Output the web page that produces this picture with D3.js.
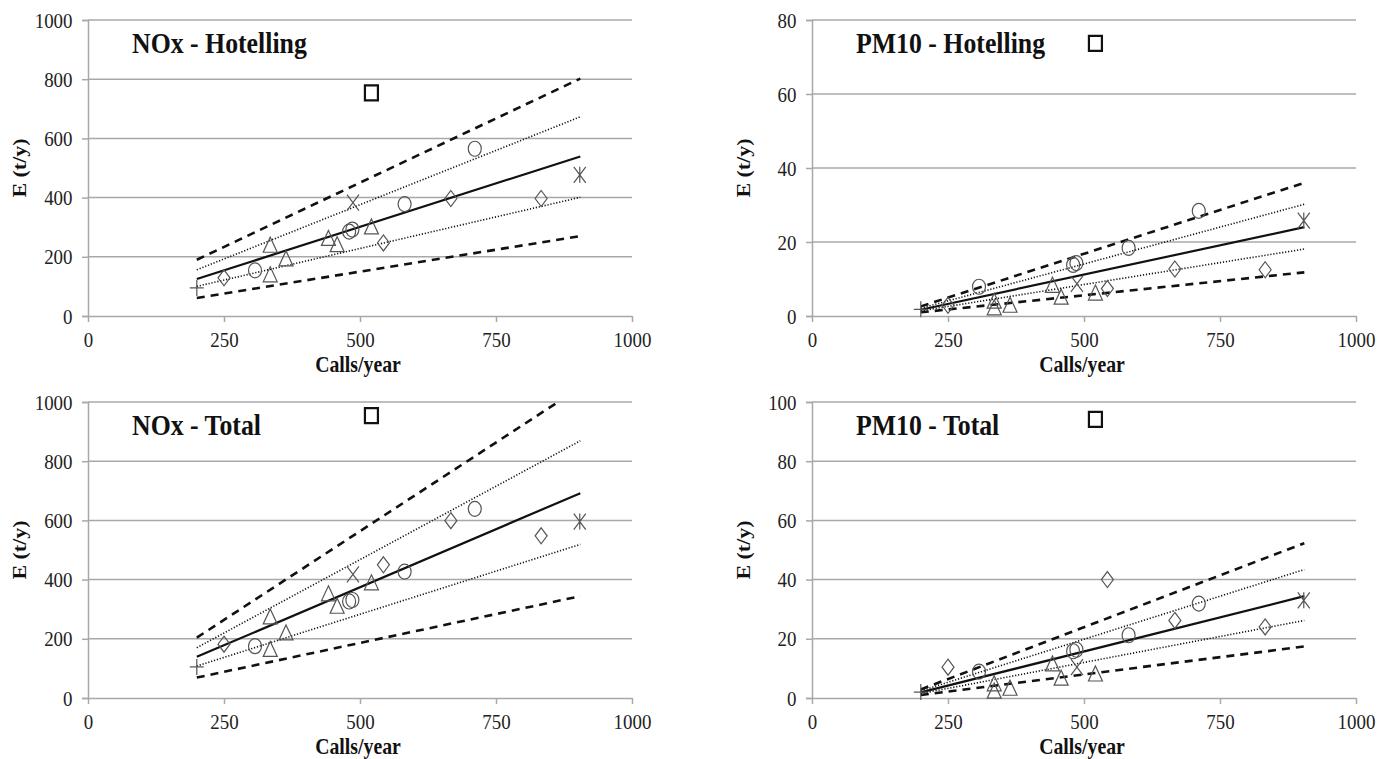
<!DOCTYPE html>
<html>
<head>
<meta charset="utf-8">
<script src="https://cdn.jsdelivr.net/npm/d3@7"></script>
<style>
  body { margin: 0; background: #fff; }
  svg { display: block; }
  svg text { font-family: "Liberation Serif", "DejaVu Serif", serif; }
</style>
</head>
<body>
<div id="chart"></div>
<script>
// ports: calls per year and marker shape (same in all four panels)
var calls  = [200, 250, 307, 335, 335, 364, 442, 458, 480, 486, 487, 521, 521, 543, 582, 667, 711, 833, 904];
var shapes = ["plus", "diamond", "circle", "triangle", "triangle", "triangle", "triangle", "triangle", "circle", "circle",
              "cross", "triangle", "square", "diamond", "circle", "diamond", "circle", "diamond", "asterisk"];

// emissions (t/y), same order as calls
var noxHotelling  = [95, 129, 154, 239, 139, 193, 262, 241, 285, 292, 383, 301, 754, 247, 378, 397, 565, 397, 477];
var noxTotal      = [105, 182, 175, 274, 164, 220, 352, 310, 326, 331, 418, 389, 954, 450, 427, 599, 639, 548, 596];
var pm10Hotelling = [1.8, 2.9, 7.9, 4.0, 2.2, 2.9, 8.3, 5.1, 13.8, 14.3, 8.7, 6.2, 73.7, 7.4, 18.4, 12.7, 28.4, 12.5, 25.8];
var pm10Total     = [2.0, 10.4, 8.9, 4.8, 2.3, 3.3, 11.5, 6.7, 15.8, 16.3, 10.4, 8.1, 94.1, 40.0, 21.2, 26.2, 31.9, 24.0, 33.0];

// regression line and bands, value at x = 200 and x = 905
var lineX = [200, 905];
var noxHotLines  = {fit: [125, 539], dotHi: [156, 673], dotLo: [100, 401], dashHi: [190, 802], dashLo: [61, 270]};
var noxTotLines  = {fit: [139, 692], dotHi: [170, 869], dotLo: [108, 519], dashHi: [204, 1049], dashLo: [69, 344]};
var pmHotLines   = {fit: [1.7, 24.0], dotHi: [2.1, 30.2], dotLo: [1.4, 18.1], dashHi: [2.6, 36.0], dashLo: [1.0, 11.8]};
var pmTotLines   = {fit: [1.9, 34.4], dotHi: [2.4, 43.4], dotLo: [1.5, 26.2], dashHi: [2.9, 52.3], dashLo: [1.0, 17.4]};

var xTicks = [0, 250, 500, 750, 1000];
var noxTicks = [0, 200, 400, 600, 800, 1000];
var pmHotTicks = [0, 20, 40, 60, 80];
var pmTotTicks = [0, 20, 40, 60, 80, 100];

var panels = [
  {title: "NOx - Hotelling", values: noxHotelling, lines: noxHotLines, ymax: 1000, ticks: noxTicks, left: 88, right: 632, top: 20, bottom: 316},
  {title: "PM10 - Hotelling", values: pm10Hotelling, lines: pmHotLines, ymax: 80, ticks: pmHotTicks, left: 812, right: 1356, top: 20, bottom: 316},
  {title: "NOx - Total", values: noxTotal, lines: noxTotLines, ymax: 1000, ticks: noxTicks, left: 88, right: 632, top: 402, bottom: 698},
  {title: "PM10 - Total", values: pm10Total, lines: pmTotLines, ymax: 100, ticks: pmTotTicks, left: 812, right: 1356, top: 402, bottom: 698}
];

var svgWidth = 1385;
var svgHeight = 759;
var squeeze = 0.86;   // text in the picture is horizontally condensed
var gridColor = "#a8a8a8";

var svg = d3.select("#chart")
  .append("svg")
  .attr("width", svgWidth)
  .attr("height", svgHeight);

// marker outlines, drawn around 0,0
function markerPath(type) {
  switch (type) {
    case "square":   return "M-6.5,-7.5H6.5V7.5H-6.5Z";
    case "circle":   return "M-6.5,0A6.5,7.5 0 1,0 6.5,0A6.5,7.5 0 1,0 -6.5,0Z";
    case "triangle": return "M0,-8L7,7H-7Z";
    case "diamond":  return "M0,-8L6,0L0,8L-6,0Z";
    case "plus":     return "M-7,0H7M0,-8V8";
    case "cross":    return "M-6,-8L6,8M6,-8L-6,8";
    case "asterisk": return "M-6,-8L6,8M6,-8L-6,8M0,-8V8";
  }
}

var lineStyles = [
  {key: "dashHi", width: 2.6, dash: "8,6"},
  {key: "dashLo", width: 2.6, dash: "8,6"},
  {key: "dotHi", width: 1.6, dash: "1.2,1.8"},
  {key: "dotLo", width: 1.6, dash: "1.2,1.8"},
  {key: "fit", width: 2.2, dash: null}
];

panels.forEach(function(p, i) {
  var x = d3.scaleLinear().domain([0, 1000]).range([p.left, p.right]);
  var y = d3.scaleLinear().domain([0, p.ymax]).range([p.bottom, p.top]);
  var g = svg.append("g");

  // horizontal gridlines
  g.selectAll(".grid")
    .data(p.ticks.filter(function(t) { return t > 0; }))
    .enter()
    .append("line")
    .attr("x1", p.left).attr("x2", p.right)
    .attr("y1", function(d) { return y(d); })
    .attr("y2", function(d) { return y(d); })
    .attr("stroke", gridColor)
    .attr("stroke-width", 1.5);

  // axes
  var yAxis = g.append("g")
    .attr("transform", "translate(" + p.left + ",0)")
    .call(d3.axisLeft(y).tickValues(p.ticks).tickSize(6).tickPadding(12).tickFormat(d3.format("d")));
  var xAxis = g.append("g")
    .attr("transform", "translate(0," + p.bottom + ")")
    .call(d3.axisBottom(x).tickValues(xTicks).tickSize(6).tickSizeOuter(0).tickPadding(9).tickFormat(d3.format("d")));

  [yAxis, xAxis].forEach(function(ax) {
    ax.attr("font-family", null);
    ax.select(".domain").attr("stroke", gridColor).attr("stroke-width", 1.5);
    ax.selectAll(".tick line").attr("stroke", gridColor).attr("stroke-width", 1.5);
    ax.selectAll(".tick text")
      .style("font-size", "22px")
      .attr("fill", "#222")
      .attr("transform", "scale(" + squeeze + ",1)");
  });

  // axis titles
  g.append("text")
    .attr("transform", "translate(" + (p.left + 270) + "," + (p.bottom + 56) + ") scale(" + squeeze + ",1)")
    .attr("text-anchor", "middle")
    .style("font-weight", "bold")
    .style("font-size", "23px")
    .attr("fill", "#111")
    .text("Calls/year");

  g.append("text")
    .attr("transform", "translate(" + (p.left - 62) + "," + ((p.top + p.bottom) / 2) + ") scale(" + squeeze + ",1) rotate(-90)")
    .attr("text-anchor", "middle")
    .style("font-weight", "bold")
    .style("font-size", "22px")
    .attr("fill", "#111")
    .text("E (t/y)");

  // panel title
  g.append("text")
    .attr("transform", "translate(" + (p.left + 44) + "," + (p.top + 33) + ") scale(" + squeeze + ",1)")
    .style("font-weight", "bold")
    .style("font-size", "30px")
    .attr("fill", "#111")
    .text(p.title);

  // regression line and bands, clipped to the plot
  var clipId = "clip" + i;
  svg.append("clipPath").attr("id", clipId)
    .append("rect")
    .attr("x", p.left).attr("y", p.top)
    .attr("width", p.right - p.left).attr("height", p.bottom - p.top);

  var line = d3.line()
    .x(function(d) { return x(d[0]); })
    .y(function(d) { return y(d[1]); });

  var lg = g.append("g").attr("clip-path", "url(#" + clipId + ")");
  lineStyles.forEach(function(s) {
    var pts = lineX.map(function(xv, k) { return [xv, p.lines[s.key][k]]; });
    lg.append("path")
      .attr("d", line(pts))
      .attr("fill", "none")
      .attr("stroke", "#111")
      .attr("stroke-width", s.width)
      .attr("stroke-dasharray", s.dash);
  });

  // markers
  var pts = calls.map(function(c, k) { return {x: c, y: p.values[k], shape: shapes[k]}; });
  g.selectAll(".marker")
    .data(pts)
    .enter()
    .append("path")
    .attr("transform", function(d) { return "translate(" + x(d.x) + "," + y(d.y) + ")"; })
    .attr("d", function(d) { return markerPath(d.shape); })
    .attr("fill", "none")
    .attr("stroke", function(d) { return d.shape === "square" ? "#111" : "#555"; })
    .attr("stroke-width", function(d) { return d.shape === "square" ? 2.2 : 1.2; });
});
</script>
</body>
</html>
